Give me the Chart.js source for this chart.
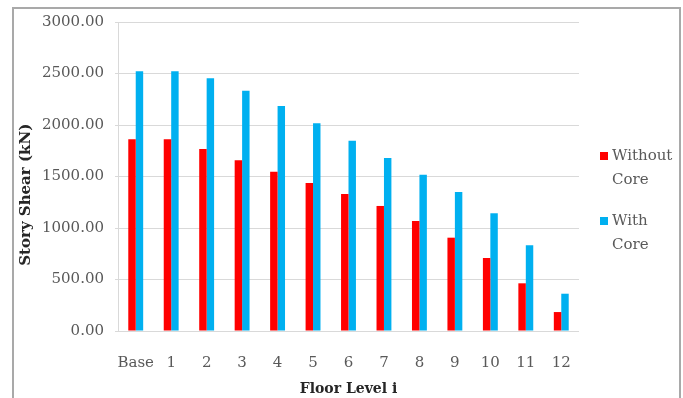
<!DOCTYPE html>
<html>
<head>
<meta charset="utf-8">
<script src="https://cdn.jsdelivr.net/npm/chart.js@4/dist/chart.umd.min.js"></script>
<style>
  html, body { margin: 0; padding: 0; background: #ffffff; }
  #wrap { position: relative; width: 683px; height: 398px; overflow: hidden; }
  #frame {
    position: absolute; left: 12px; top: 7px; width: 669px; height: 400px;
    border: 2px solid #a9a9a9; border-bottom: none; box-sizing: border-box;
  }
  #chart { position: absolute; left: 0; top: 0; }
</style>
</head>
<body>
<div id="wrap">
  <div id="frame"></div>
  <canvas id="chart" width="683" height="398"></canvas>
</div>
<script>
// Story shear per floor level, with and without the central core
const floorLevels = ['Base', '1', '2', '3', '4', '5', '6', '7', '8', '9', '10', '11', '12'];
const shearWithoutCore = [1861, 1861, 1767, 1657, 1547, 1437, 1330, 1214, 1068, 906, 709, 463, 184];
const shearWithCore = [2521, 2521, 2453, 2333, 2184, 2016, 1848, 1680, 1518, 1350, 1143, 832, 362];
const seriesNames = [['Without', 'Core'], ['With', 'Core']];
const seriesColors = ['#ff0000', '#00b0f0'];

const serif = "'DejaVu Serif', 'Liberation Serif', serif";

// Legend drawn to the right of the plot, two-line labels
const sideLegend = {
  id: 'sideLegend',
  afterDraw(chart) {
    const ctx = chart.ctx;
    const x = 600, starts = [156, 221], lineGap = 24;
    ctx.save();
    ctx.font = '15px ' + serif;
    ctx.textBaseline = 'middle';
    ctx.textAlign = 'left';
    chart.data.datasets.forEach((ds, i) => {
      const y = starts[i];
      ctx.fillStyle = ds.backgroundColor;
      ctx.fillRect(x, y - 4, 8, 8);
      ctx.fillStyle = '#595959';
      ds.label.forEach((line, k) => ctx.fillText(line, x + 12, y + k * lineGap));
    });
    ctx.restore();
  }
};

new Chart(document.getElementById('chart'), {
  type: 'bar',
  data: {
    labels: floorLevels,
    datasets: [
      { label: seriesNames[0], data: shearWithoutCore, backgroundColor: seriesColors[0] },
      { label: seriesNames[1], data: shearWithCore, backgroundColor: seriesColors[1] }
    ]
  },
  options: {
    responsive: false,
    animation: false,
    devicePixelRatio: 1,
    layout: { padding: { left: 12, top: 22, right: 104, bottom: 0 } },
    datasets: { bar: { categoryPercentage: 0.42, barPercentage: 1.0 } },
    plugins: { legend: { display: false }, tooltip: { enabled: false } },
    scales: {
      x: {
        grid: { display: false, drawTicks: false },
        border: { display: false },
        ticks: {
          color: '#595959', font: { family: serif, size: 15 }, padding: 23,
          maxRotation: 0, autoSkip: false
        },
        title: {
          display: true, text: 'Floor Level i', color: '#262626',
          font: { family: serif, size: 14, weight: 'bold' }, padding: { top: 0, bottom: 0 }
        },
        afterFit(scale) { scale.height = 67; }
      },
      y: {
        min: 0, max: 3000,
        grid: { color: '#d9d9d9', lineWidth: 1, tickLength: 3 },
        border: { display: true, color: '#d9d9d9' },
        ticks: {
          stepSize: 500, color: '#595959', padding: 11,
          font: { family: serif, size: 15 },
          callback: v => v.toFixed(2)
        },
        title: {
          // trailing spaces set the title a little below the axis midpoint
          display: true, text: 'Story Shear (kN)\u00a0\u00a0\u00a0\u00a0\u00a0\u00a0\u00a0', color: '#262626',
          font: { family: serif, size: 15, weight: 'bold' }, padding: { top: 5, bottom: 0 }
        },
        afterFit(scale) { scale.width = 106; }
      }
    }
  },
  plugins: [sideLegend]
});
</script>
</body>
</html>
